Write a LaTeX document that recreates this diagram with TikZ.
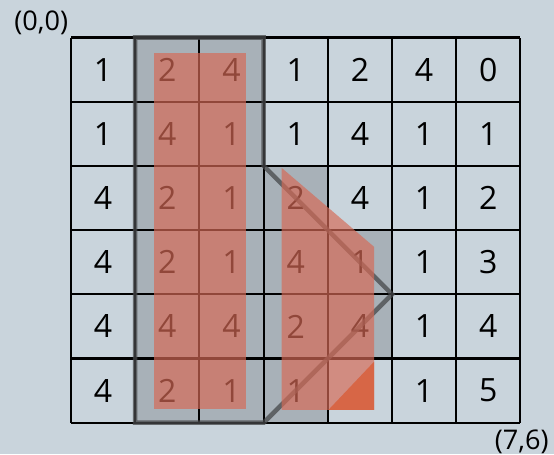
\documentclass[tikz,border=0pt]{standalone}
\usepackage{fontspec}
\setmainfont{Open Sans}
\definecolor{bgcol}{RGB}{201,212,220}
\definecolor{redcol}{RGB}{214,106,86}
\definecolor{tricol}{RGB}{216,98,64}
\definecolor{outcol}{RGB}{70,72,74}
\tikzset{
  gridline/.style={line width=0.95pt, black},
  num/.style={inner sep=0pt, anchor=center, font=\fontsize{14.2}{16}\selectfont},
  corner/.style={inner sep=0pt, anchor=base, font=\fontsize{12}{14}\selectfont},
  grayfill/.style={fill=black, fill opacity=0.16},
  redfill/.style={fill=redcol, fill opacity=0.68},
  outline/.style={draw=outcol, draw opacity=0.75, line width=2pt},
}
\begin{document}
\begin{tikzpicture}
\fill[bgcol] (-1.106,0.584) rectangle (7.523,-6.488);
\useasboundingbox (-1.106,0.584) rectangle (7.523,-6.488);
% grid
\draw[gridline] (0,0) grid (7,-6);
% numbers
\foreach \row [count=\r from 0] in {{1,2,4,1,2,4,0},{1,4,1,1,4,1,1},{4,2,1,2,4,1,2},{4,2,1,4,1,1,3},{4,4,4,2,4,1,4},{4,2,1,1,,1,5}}{
  \foreach \v [count=\c from 0] in \row {
    \node[num] (n-\c-\r) at (\c+0.5,-\r-0.5) {\v};
  }
}
% gray cells
\fill[grayfill] (1,0) -- (3,0) -- (3,-2) -- (4,-2) -- (4,-3) -- (5,-3) -- (5,-5) -- (4,-5) -- (4,-6) -- (1,-6) -- cycle;
% outline
\draw[outline] (1,0) -- (3,0) -- (3,-2) -- (5,-4) -- (3,-6) -- (1,-6) -- cycle;
% red shapes
\fill[redfill] (1.29,-0.24) rectangle (2.72,-5.79);
\fill[redfill] (3.28,-2.03) -- (4.72,-3.26) -- (4.72,-5.80) -- (3.28,-5.80) -- cycle;
\fill[tricol, fill opacity=0.9] (4.01,-5.80) -- (4.72,-5.80) -- (4.72,-5.05) -- cycle;
% corner labels
\node[corner] (o) at (-0.463,0.106) {(0,0)};
\node[corner] (e) at (7.02,-6.42) {(7,6)};
\end{tikzpicture}
\end{document}
